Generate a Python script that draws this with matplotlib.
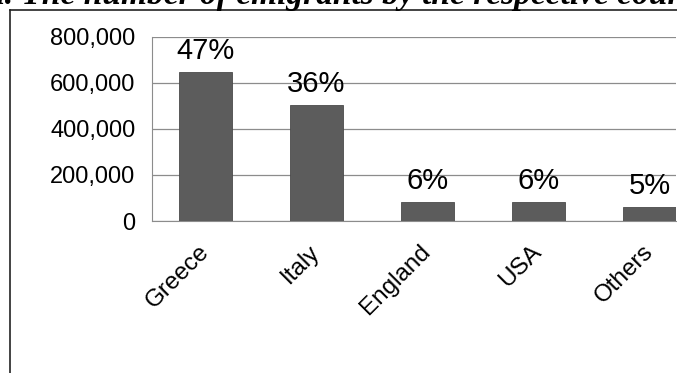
import matplotlib
matplotlib.use("Agg")
import matplotlib.pyplot as plt
from matplotlib.lines import Line2D
from matplotlib.ticker import FuncFormatter

# data
countries = ["Greece", "Italy", "England", "USA", "Others"]
emigrants = [648000, 504000, 82000, 82000, 61000]
shares = ["47%", "36%", "6%", "6%", "5%"]
y_ticks = [0, 200000, 400000, 600000, 800000]

plt.rcParams["font.family"] = ["Liberation Sans", "DejaVu Sans"]

W, H = 677, 373
fig = plt.figure(figsize=(W / 100, H / 100), dpi=100)

# plot area: left 152px, bottom 221px, top 37px, right edge at 676px
ax = fig.add_axes([152 / W, (H - 221) / H, 524 / W, 184 / H])
x = list(range(len(countries)))
bars = ax.bar(x, emigrants, width=0.48, color="#5c5c5c", edgecolor="#4a4a4a", linewidth=0.6, zorder=3)

for b, s in zip(bars, shares):
    ax.annotate(s, (b.get_x() + b.get_width() / 2, b.get_height()),
                xytext=(0, 5), textcoords="offset points",
                ha="center", va="bottom", fontsize=21, color="black", zorder=4)

ax.set_xlim(-0.482, -0.482 + 524 / 111)
ax.set_ylim(0, 800000)
ax.set_yticks(y_ticks)
ax.yaxis.set_major_formatter(FuncFormatter(lambda v, p: f"{int(v):,}"))
ax.set_xticks(x)
ax.set_xticklabels(countries, rotation=45, ha="right", va="center", rotation_mode="anchor")
ax.tick_params(axis="y", length=0, pad=12, labelsize=17)
ax.tick_params(axis="x", length=0, pad=20, labelsize=17.5)

ax.grid(axis="y", color="#8c8c8c", linewidth=0.9, zorder=0)
for side in ["top", "right"]:
    ax.spines[side].set_visible(False)
ax.spines["left"].set_color("#8c8c8c")
ax.spines["bottom"].set_color("#8c8c8c")

# outer frame lines (top and left) of the original figure box
fig.add_artist(Line2D([9.5 / W, 1.0], [1 - 9.5 / H, 1 - 9.5 / H], color="#222222", lw=1.2))
fig.add_artist(Line2D([9.5 / W, 9.5 / W], [0, 1 - 9.5 / H], color="#222222", lw=1.2))

# cut-off caption above the figure
fig.text(-12 / W, 1 - 4 / H, "a. The number of emigrants by the respective countries",
         family="Liberation Serif", weight="bold", style="italic", fontsize=24,
         ha="left", va="baseline")

fig.savefig("out.png", dpi=100)
